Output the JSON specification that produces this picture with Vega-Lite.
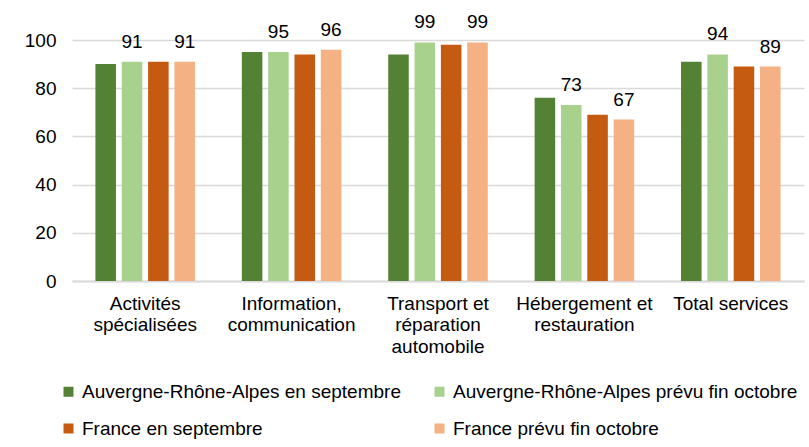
{
  "$schema": "https://vega.github.io/schema/vega-lite/v6.json",
  "width": 732,
  "height": 241,
  "autosize": {"type": "none"},
  "padding": {"left": 72, "top": 40, "right": 5, "bottom": 166},
  "background": "white",
  "config": {
    "view": {"stroke": null},
    "font": "Liberation Sans"
  },
  "data": {
    "values": [
      {"secteur": "Activités|spécialisées", "serie": "Auvergne-Rhône-Alpes en septembre", "valeur": 90},
      {"secteur": "Activités|spécialisées", "serie": "Auvergne-Rhône-Alpes prévu fin octobre", "valeur": 91},
      {"secteur": "Activités|spécialisées", "serie": "France en septembre", "valeur": 91},
      {"secteur": "Activités|spécialisées", "serie": "France prévu fin octobre", "valeur": 91},
      {"secteur": "Information,|communication", "serie": "Auvergne-Rhône-Alpes en septembre", "valeur": 95},
      {"secteur": "Information,|communication", "serie": "Auvergne-Rhône-Alpes prévu fin octobre", "valeur": 95},
      {"secteur": "Information,|communication", "serie": "France en septembre", "valeur": 94},
      {"secteur": "Information,|communication", "serie": "France prévu fin octobre", "valeur": 96},
      {"secteur": "Transport et|réparation|automobile", "serie": "Auvergne-Rhône-Alpes en septembre", "valeur": 94},
      {"secteur": "Transport et|réparation|automobile", "serie": "Auvergne-Rhône-Alpes prévu fin octobre", "valeur": 99},
      {"secteur": "Transport et|réparation|automobile", "serie": "France en septembre", "valeur": 98},
      {"secteur": "Transport et|réparation|automobile", "serie": "France prévu fin octobre", "valeur": 99},
      {"secteur": "Hébergement et|restauration", "serie": "Auvergne-Rhône-Alpes en septembre", "valeur": 76},
      {"secteur": "Hébergement et|restauration", "serie": "Auvergne-Rhône-Alpes prévu fin octobre", "valeur": 73},
      {"secteur": "Hébergement et|restauration", "serie": "France en septembre", "valeur": 69},
      {"secteur": "Hébergement et|restauration", "serie": "France prévu fin octobre", "valeur": 67},
      {"secteur": "Total services", "serie": "Auvergne-Rhône-Alpes en septembre", "valeur": 91},
      {"secteur": "Total services", "serie": "Auvergne-Rhône-Alpes prévu fin octobre", "valeur": 94},
      {"secteur": "Total services", "serie": "France en septembre", "valeur": 89},
      {"secteur": "Total services", "serie": "France prévu fin octobre", "valeur": 89}
    ]
  },
  "encoding": {
    "x": {
      "field": "secteur",
      "type": "nominal",
      "sort": null,
      "scale": {"paddingInner": 0.32, "paddingOuter": 0.16},
      "axis": {
        "title": null,
        "labelAngle": 0,
        "labelExpr": "split(datum.label, '|')",
        "labelFont": "Liberation Sans",
        "labelFontSize": 19,
        "labelColor": "#000000",
        "labelLineHeight": 21.5,
        "labelPadding": 13,
        "labelBaseline": "top",
        "labelLimit": 0,
        "labelOverlap": false,
        "ticks": false,
        "domainColor": "#d9d9d9",
        "domainWidth": 2,
        "grid": false
      }
    },
    "xOffset": {
      "field": "serie",
      "type": "nominal",
      "sort": null,
      "scale": {"paddingInner": 0.22}
    },
    "y": {
      "field": "valeur",
      "type": "quantitative",
      "scale": {"domain": [0, 100], "nice": false},
      "axis": {
        "title": null,
        "values": [0, 20, 40, 60, 80, 100],
        "domain": false,
        "ticks": false,
        "labelFontSize": 19,
        "labelColor": "#000000",
        "labelPadding": 16,
        "gridColor": "#d9d9d9",
        "gridWidth": 1.5
      }
    }
  },
  "layer": [
    {
      "mark": {"type": "bar", "clip": false},
      "encoding": {
        "color": {
          "field": "serie",
          "type": "nominal",
          "sort": null,
          "scale": {
            "domain": ["Auvergne-Rhône-Alpes en septembre", "Auvergne-Rhône-Alpes prévu fin octobre", "France en septembre", "France prévu fin octobre"],
            "range": ["#548235", "#a9d18e", "#c55a11", "#f4b183"]
          },
          "legend": {
            "title": null,
            "orient": "none",
            "legendX": -13,
            "legendY": 342,
            "direction": "horizontal",
            "columns": 2,
            "columnPadding": 29,
            "rowPadding": 17,
            "symbolType": "square",
            "symbolSize": 100,
            "symbolStrokeWidth": 0,
            "symbolOffset": 0,
            "labelOffset": 4,
            "labelLimit": 0,
            "labelFont": "Liberation Sans",
            "labelFontSize": 19,
            "labelColor": "#000000"
          }
        }
      }
    },
    {
      "transform": [{"filter": "indexof(datum.serie, 'prévu') >= 0"}],
      "mark": {"type": "text", "baseline": "bottom", "dy": -10, "fontSize": 19, "color": "#000000", "font": "Liberation Sans"},
      "encoding": {
        "text": {"field": "valeur", "type": "quantitative"}
      }
    }
  ]
}
